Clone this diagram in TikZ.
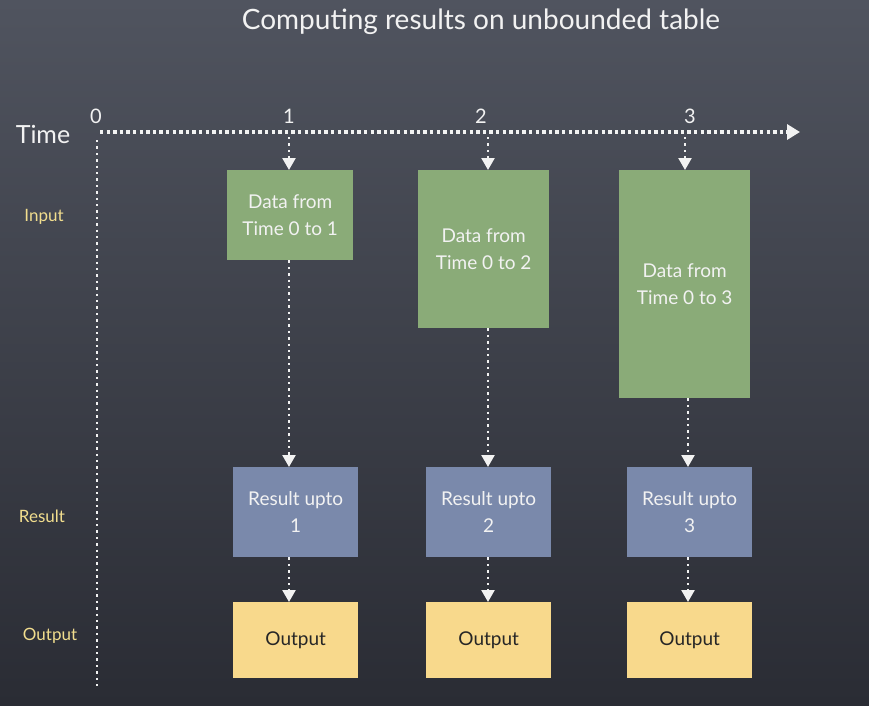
\documentclass[tikz,border=0pt]{standalone}
\usepackage{fontspec}
\setmainfont{Lato}
\usetikzlibrary{arrows.meta}
\definecolor{bgtop}{HTML}{50545F}
\definecolor{bgbot}{HTML}{2A2C34}
\definecolor{gbox}{HTML}{8AAB78}
\definecolor{bbox}{HTML}{7A89AB}
\definecolor{ybox}{HTML}{F8D98C}
\definecolor{lbl}{HTML}{F2DE8E}
\definecolor{chalk}{HTML}{F2F2F2}
\tikzset{
  dotline/.style={draw=chalk, line width=3.4pt, dash pattern=on 3.4pt off 3.2pt},
  thindot/.style={draw=chalk, line width=2.4pt, dash pattern=on 2.4pt off 4pt},
  tip/.style={-{Triangle[length=12pt,width=13pt]}},
  boxtext/.style={text=chalk, font=\fontsize{19}{27}\selectfont, align=center, inner sep=0pt},
  greenbox/.style={fill=gbox, anchor=north west, boxtext},
  bluebox/.style={fill=bbox, anchor=north west, boxtext, minimum width=125pt, minimum height=90pt},
  yelbox/.style={fill=ybox, anchor=north west, boxtext, text=black!85, minimum width=125pt, minimum height=76pt},
  rowlbl/.style={text=lbl, font=\fontsize{17}{19}\selectfont},
  num/.style={text=chalk, font=\fontsize{20}{22}\selectfont}
}
\begin{document}
\begin{tikzpicture}[x=1pt,y=-1pt]
\shade[top color=bgtop, bottom color=bgbot] (0,0) rectangle (869,705);
\useasboundingbox (0,0) rectangle (869,705);
\node[text=chalk, font=\fontsize{28}{30}\selectfont] (title) at (481,22) {Computing results on unbounded table};
\node[text=chalk, font=\fontsize{25}{27}\selectfont] (time) at (43,134) {Time};
\node[num] (n0) at (96,116) {0};
\node[num] (n1) at (289,116) {1};
\node[num] (n2) at (481,116) {2};
\node[num] (n3) at (690,116) {3};
\coordinate (ax0) at (100,132);
\coordinate (axe) at (800,132);
\coordinate (vy0) at (97,140);
\coordinate (vy1) at (97,690);
\draw[dotline, -{Triangle[length=13pt,width=15pt]}] (ax0) -- (axe);
\draw[thindot, line width=2pt] (vy0) -- (vy1);
\node[rowlbl] (lin) at (44,217) {Input};
\node[rowlbl] (lres) at (42,516) {Result};
\node[rowlbl] (lout) at (50,636) {Output};
% green boxes
\node[greenbox, minimum width=126pt, minimum height=90pt] (g1) at (227,170) {Data from\\Time 0 to 1};
\node[greenbox, minimum width=131pt, minimum height=158pt] (g2) at (418,170) {Data from\\Time 0 to 2};
\node[greenbox, minimum width=131pt, minimum height=228pt] (g3) at (619,170) {Data from\\Time 0 to 3};
% blue boxes
\node[bluebox] (r1) at (233,467) {Result upto\\1};
\node[bluebox] (r2) at (426,467) {Result upto\\2};
\node[bluebox] (r3) at (627,467) {Result upto\\3};
% yellow boxes
\node[yelbox] (o1) at (233,602) {Output};
\node[yelbox] (o2) at (426,602) {Output};
\node[yelbox] (o3) at (627,602) {Output};
% tick coordinates
\coordinate (t1) at (289,137);
\coordinate (t2) at (488,137);
\coordinate (t3) at (685,137);
\coordinate (c1) at (289,0);
\coordinate (c2) at (488,0);
\coordinate (c3) at (688,0);
\draw[thindot, tip] (t1) -- (t1 |- g1.north);
\draw[thindot, tip] (t2) -- (t2 |- g2.north);
\draw[thindot, tip] (t3) -- (t3 |- g3.north);
\draw[thindot, tip] (c1 |- g1.south) -- (c1 |- r1.north);
\draw[thindot, tip] (c2 |- g2.south) -- (c2 |- r2.north);
\draw[thindot, tip] (c3 |- g3.south) -- (c3 |- r3.north);
\draw[thindot, tip] (c1 |- r1.south) -- (c1 |- o1.north);
\draw[thindot, tip] (c2 |- r2.south) -- (c2 |- o2.north);
\draw[thindot, tip] (c3 |- r3.south) -- (c3 |- o3.north);
\end{tikzpicture}
\end{document}
